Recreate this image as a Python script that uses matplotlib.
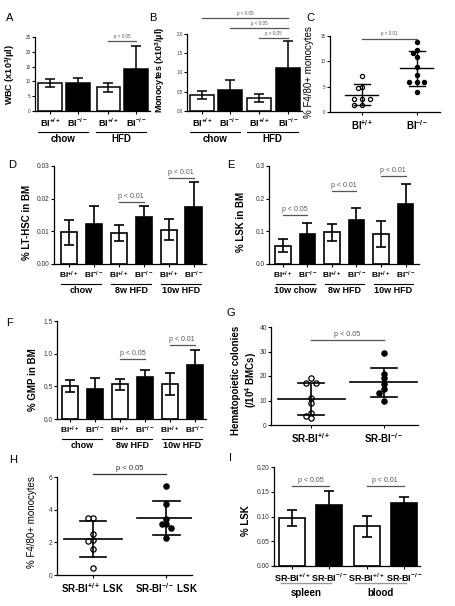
import numpy as np
import matplotlib
matplotlib.use('Agg')
import matplotlib.pyplot as plt
from matplotlib.transforms import ScaledTranslation
from matplotlib.lines import Line2D

plt.rcParams['font.family'] = ['Liberation Sans', 'DejaVu Sans']
plt.rcParams['mathtext.fontset'] = 'custom'
plt.rcParams['mathtext.rm'] = 'Liberation Sans'
plt.rcParams['mathtext.bf'] = 'Liberation Sans:bold'
plt.rcParams['mathtext.it'] = 'Liberation Sans'

W, H, DPI = 456, 606, 100

# ---------------- data ----------------
geno_short = [r'BI$^{\mathbf{+/+}}$', r'BI$^{\mathbf{-/-}}$']
geno_sr = [r'SR-BI$^{\mathbf{+/+}}$', r'SR-BI$^{\mathbf{-/-}}$']
geno_sr_lsk = [r'SR-BI$^{\mathbf{+/+}}$ LSK', r'SR-BI$^{\mathbf{-/-}}$ LSK']

diet_ab = ['chow', 'HFD']
diet_df = ['chow', '8w HFD', '10w HFD']
diet_e = ['10w chow', '8w HFD', '10w HFD']
tissue_i = ['spleen', 'blood']

# A: WBC
wbc_mean = [9.4, 9.4, 8.0, 14.1]
wbc_err = [1.35, 1.6, 1.6, 8.0]
# B: monocytes
mono_mean = [0.42, 0.55, 0.33, 1.11]
mono_err = [0.10, 0.26, 0.10, 0.72]
# C: % F4/80+ monocytes
c_wt = [7.1, 4.9, 4.8, 2.5, 2.5, 2.5, 1.45, 1.45]
c_ko = [13.9, 12.2, 11.7, 10.9, 8.9, 7.3, 5.95, 5.95, 5.95, 4.0]
c_mean = [3.45, 8.65]
c_sd = [2.05, 3.45]
# D: % LT-HSC in BM
d_mean = [0.0097, 0.0122, 0.0095, 0.0143, 0.0105, 0.0173]
d_err = [0.0039, 0.0056, 0.0024, 0.0034, 0.0033, 0.0078]
# E: % LSK in BM
e_mean = [0.056, 0.092, 0.097, 0.136, 0.092, 0.185]
e_err = [0.019, 0.032, 0.026, 0.034, 0.039, 0.059]
# F: % GMP in BM
f_mean = [0.51, 0.465, 0.53, 0.636, 0.54, 0.82]
f_err = [0.09, 0.16, 0.08, 0.115, 0.17, 0.235]
# G: hematopoietic colonies
g_wt = [19.0, 17.2, 17.2, 11.2, 9.1, 4.7, 3.7, 2.7]
g_ko = [29.2, 21.0, 19.0, 16.7, 14.6, 13.2, 9.6]
g_mean = [10.6, 17.4]
g_sd = [6.6, 5.9]
# H: % F4/80+ monocytes from LSK
h_wt = [3.5, 3.5, 2.48, 2.13, 2.07, 1.57, 0.45]
h_ko = [5.43, 4.37, 3.44, 3.13, 3.13, 2.89, 2.24]
h_mean = [2.22, 3.5]
h_sd = [1.1, 1.05]
# I: % LSK in spleen / blood
i_mean = [0.097, 0.124, 0.080, 0.128]
i_err = [0.016, 0.027, 0.021, 0.011]

# ---------------- helpers ----------------
fig = plt.figure(figsize=(W / DPI, H / DPI), dpi=DPI)
fig.patch.set_facecolor('white')


def add_ax(l, t, r, b):
    return fig.add_axes([l / W, 1 - b / H, (r - l) / W, (b - t) / H])


def ftext(x, y, s, **kw):
    fig.text(x / W, 1 - y / H, s, **kw)


def style(ax, ylim, yticks, ylabels, yfs, xlim):
    for s in ['top', 'right']:
        ax.spines[s].set_visible(False)
    for s in ['left', 'bottom']:
        ax.spines[s].set_linewidth(0.9)
    ax.set_xlim(xlim)
    ax.set_ylim(ylim)
    ax.set_yticks(yticks)
    ax.set_yticklabels(ylabels, fontsize=yfs, color='#333333')
    ax.tick_params(axis='y', length=2.2, width=0.8, pad=0.8)
    ax.tick_params(axis='x', length=2.2, width=0.8, pad=2.0)
    ax.patch.set_alpha(0)


def bars(ax, x, means, errs, width, lw=1.2, cap=3.6):
    cols = ['white', 'black'] * (len(means) // 2)
    ax.bar(x, means, width=width, color=cols, edgecolor='black', linewidth=lw, zorder=2)
    ax.errorbar(x, means, yerr=errs, fmt='none', ecolor='black', elinewidth=lw,
                capsize=cap, capthick=lw, zorder=3)


def sig(ax, x0, x1, y, text, fs, color='#555555', pad=1.5, lw=0.9):
    ax.plot([x0, x1], [y, y], color=color, lw=lw, clip_on=False, zorder=4)
    ax.annotate(text, xy=((x0 + x1) / 2, y), xytext=(0, pad), textcoords='offset points',
                ha='center', va='bottom', fontsize=fs, color=color, annotation_clip=False)


def xlabels(ax, x, labels, fs=7):
    ax.set_xticks(x)
    ax.set_xticklabels(labels, fontsize=fs, fontweight='bold')


def groups(ax, spans, labels, line_dy, text_dy, fs=7, color='black', lw=0.8):
    for (x0, x1), lab in zip(spans, labels):
        tr = ax.get_xaxis_transform() + ScaledTranslation(0, -line_dy / DPI, fig.dpi_scale_trans)
        ax.add_line(Line2D([x0, x1], [0, 0], transform=tr, color=color, lw=lw, clip_on=False))
        tr2 = ax.get_xaxis_transform() + ScaledTranslation(0, -text_dy / DPI, fig.dpi_scale_trans)
        ax.text((x0 + x1) / 2, 0, lab, transform=tr2, ha='center', va='center',
                fontsize=fs, fontweight='bold', clip_on=False)


def swarm(vals, ylim, h_px, unit_px, diam_px):
    placed, offs = [], []
    step = diam_px / unit_px
    cands = [0]
    for i in range(1, 8):
        cands += [-i, i]
    for v in vals:
        yp = (v - ylim[0]) / (ylim[1] - ylim[0]) * h_px
        for c in cands:
            xo = c * step * 0.95
            if all(((xo - a) * unit_px) ** 2 + (yp - b) ** 2 >= (diam_px * 0.95) ** 2
                   for a, b in placed):
                break
        placed.append((xo, yp))
        offs.append(xo)
    return np.array(offs)


def scatter_panel(ax, groups_vals, means, sds, ylim, h_px, unit_px, diam_px, ms,
                  mean_half, sd_half, lw=1.2):
    for i, vals in enumerate(groups_vals):
        offs = swarm(vals, ylim, h_px, unit_px, diam_px)
        face = 'white' if i == 0 else 'black'
        ax.plot(i + offs, vals, 'o', ms=ms, mfc=face, mec='black', mew=0.9, zorder=2,
                linestyle='none', clip_on=False)
        m, s = means[i], sds[i]
        ax.plot([i - mean_half, i + mean_half], [m, m], color='black', lw=lw, zorder=3)
        ax.plot([i, i], [m - s, m + s], color='black', lw=lw, zorder=3)
        for yy in (m - s, m + s):
            ax.plot([i - sd_half, i + sd_half], [yy, yy], color='black', lw=lw, zorder=3)


# ---------------- Panel A ----------------
axA = add_ax(35, 37, 150, 111)
style(axA, (0, 25), [0, 5, 10, 15, 20, 25], ['0', '5', '10', '15', '20', '25'], 3.3, (-0.55, 3.6))
xa = np.array([0, 1, 2.1, 3.1])
bars(axA, xa, wbc_mean, wbc_err, 0.85, lw=1.1, cap=3.5)
xlabels(axA, xa, geno_short * 2, fs=6.5)
groups(axA, [(xa[0] - 0.45, xa[1] + 0.35), (xa[2] - 0.45, xa[3] + 0.35)], diet_ab, 21, 28)
sig(axA, xa[2], xa[3], 23.5, 'p < 0.05', 3.3)

# ---------------- Panel B ----------------
axB = add_ax(187, 34, 302, 111)
style(axB, (0, 2.0), [0, 0.5, 1.0, 1.5, 2.0], ['0.0', '0.5', '1.0', '1.5', '2.0'], 3.3, (-0.55, 3.6))
xb = np.array([0, 1, 2.05, 3.1])
bars(axB, xb, mono_mean, mono_err, 0.85, lw=1.1, cap=3.5)
xlabels(axB, xb, geno_short * 2, fs=6.5)
groups(axB, [(xb[0] - 0.45, xb[1] + 0.35), (xb[2] - 0.45, xb[3] + 0.35)], diet_ab, 21, 28)
sig(axB, xb[0], xb[3], 2.41, 'p < 0.05', 3.3)
sig(axB, xb[1], xb[3], 2.15, 'p < 0.05', 3.3)
sig(axB, xb[2], xb[3], 1.89, 'p < 0.05', 3.3)

# ---------------- Panel C ----------------
axC = add_ax(330, 36, 440, 112)
style(axC, (0, 15), [0, 5, 10, 15], ['0', '5', '10', '15'], 3.3, (-0.58, 1.42))
scatter_panel(axC, [c_wt, c_ko], c_mean, c_sd, (0, 15), 76, 55, 4.0, 3.0, 0.3, 0.15, lw=1.0)
xlabels(axC, [0, 1], geno_short)
sig(axC, 0, 1, 14.5, 'p < 0.01', 3.3)

# ---------------- Panel D ----------------
axD = add_ax(54, 166, 206, 264)
style(axD, (0, 0.03), [0, 0.01, 0.02, 0.03], ['0.00', '0.01', '0.02', '0.03'], 4.8, (-0.6, 5.5))
x6 = np.arange(6)
bars(axD, x6, d_mean, d_err, 0.65, lw=1.2, cap=3.4)
xlabels(axD, x6, geno_short * 3, fs=6)
groups(axD, [(0 - 0.3, 1 + 0.3), (2 - 0.3, 3 + 0.3), (4 - 0.3, 5 + 0.3)], diet_df, 20, 27, fs=6.5)
sig(axD, 2, 3, 0.0189, 'p < 0.01', 5.0)
sig(axD, 4, 5, 0.0262, 'p < 0.01', 5.0)

# ---------------- Panel E ----------------
axE = add_ax(269, 166, 419, 264)
style(axE, (0, 0.3), [0, 0.1, 0.2, 0.3], ['0.0', '0.1', '0.2', '0.3'], 4.8, (-0.57, 5.55))
bars(axE, x6, e_mean, e_err, 0.65, lw=1.2, cap=3.4)
xlabels(axE, x6, geno_short * 3, fs=6)
groups(axE, [(0 - 0.3, 1 + 0.3), (2 - 0.3, 3 + 0.3), (4 - 0.3, 5 + 0.3)], diet_e, 20, 27, fs=6.5)
sig(axE, 0, 1, 0.151, 'p < 0.05', 5.0)
sig(axE, 2, 3, 0.224, 'p < 0.01', 5.0)
sig(axE, 4, 5, 0.270, 'p < 0.01', 5.0)

# ---------------- Panel F ----------------
axF = add_ax(57, 321, 206, 419)
style(axF, (0, 1.5), [0, 0.5, 1.0, 1.5], ['0.0', '0.5', '1.0', '1.5'], 4.8, (-0.52, 5.45))
bars(axF, x6, f_mean, f_err, 0.65, lw=1.2, cap=3.4)
xlabels(axF, x6, geno_short * 3, fs=6)
groups(axF, [(0 - 0.3, 1 + 0.3), (2 - 0.3, 3 + 0.3), (4 - 0.3, 5 + 0.3)], diet_df, 20, 27, fs=6.5)
sig(axF, 2, 3, 0.914, 'p < 0.05', 5.0)
sig(axF, 4, 5, 1.136, 'p < 0.01', 5.0)

# ---------------- Panel G ----------------
axG = add_ax(271, 327, 418, 425)
style(axG, (0, 40), [0, 10, 20, 30, 40], ['0', '10', '20', '30', '40'], 4.8, (-0.55, 1.47))
scatter_panel(axG, [g_wt, g_ko], g_mean, g_sd, (0, 40), 98, 73, 5.0, 3.8, 0.46, 0.18)
xlabels(axG, [0, 1], geno_sr)
sig(axG, 0, 1, 34.6, 'p < 0.05', 5.2)

# ---------------- Panel H ----------------
axH = add_ax(57, 477, 192, 575)
style(axH, (0, 6), [0, 2, 4, 6], ['0', '2', '4', '6'], 4.8, (-0.49, 1.35))
scatter_panel(axH, [h_wt, h_ko], h_mean, h_sd, (0, 6), 98, 74, 5.0, 3.8, 0.4, 0.18)
xlabels(axH, [0, 1], geno_sr_lsk)
sig(axH, 0, 1, 6.2, 'p < 0.05', 5.5, color='#333333')

# ---------------- Panel I ----------------
axI = add_ax(274, 467, 420, 566)
style(axI, (0, 0.20), [0, 0.05, 0.10, 0.15, 0.20], ['0.00', '0.05', '0.10', '0.15', '0.20'], 4.8,
      (-0.48, 3.43))
x4 = np.arange(4)
bars(axI, x4, i_mean, i_err, 0.7, lw=1.2, cap=3.8)
xlabels(axI, x4, geno_sr * 2, fs=6.5)
groups(axI, [(0 - 0.3, 1 + 0.05), (2 - 0.3, 3 + 0.05)], tissue_i, 17, 27, color='#999999', lw=1.0)
sig(axI, 0, 1, 0.161, 'p < 0.05', 5.0)
sig(axI, 2, 3, 0.161, 'p < 0.01', 5.0)

# ---------------- axis titles ----------------
kw_b = dict(rotation=90, ha='center', va='center', fontweight='bold')
ftext(10, 75, r'WBC (x10$^{\mathbf{3}}$/µl)', fontsize=6.5, **kw_b)
ftext(160, 70, r'Monocytes (x10$^{\mathbf{3}}$/µl)', fontsize=6.5, **kw_b)
ftext(309, 72, '% F4/80+ monocytes', fontsize=7, rotation=90, ha='center', va='center')
ftext(27, 222, '% LT-HSC in BM', fontsize=7, **kw_b)
ftext(241, 222, '% LSK in BM', fontsize=7, **kw_b)
ftext(33, 380, '% GMP in BM', fontsize=7, **kw_b)
ftext(236, 380, 'Hematopoietic colonies', fontsize=7, **kw_b)
ftext(251, 380, r'(/10$^{\mathbf{4}}$ BMCs)', fontsize=7, **kw_b)
ftext(32, 522, '% F4/80+ monocytes', fontsize=7, rotation=90, ha='center', va='center')
ftext(246, 521, '% LSK', fontsize=7, **kw_b)

# ---------------- panel letters ----------------
for lab, (px, py) in zip('ABCDEFGHI', [(10, 18), (153, 18), (310, 18), (12, 165), (231, 165),
                                        (10, 323), (231, 313), (13, 460), (231, 458)]):
    ftext(px, py, lab, fontsize=8, ha='center', va='center')

fig.savefig('out.png', dpi=DPI, facecolor='white')
